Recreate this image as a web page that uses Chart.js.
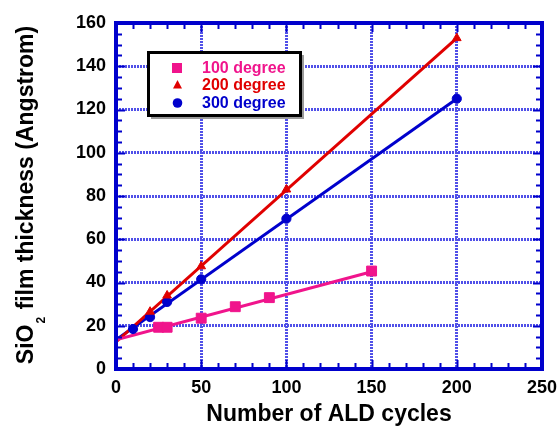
<!DOCTYPE html>
<html>
<head>
<meta charset="utf-8">
<script src="https://cdn.jsdelivr.net/npm/chart.js@4"></script>
<style>
  html, body { margin: 0; padding: 0; background: #fff; }
  canvas { display: block; }
</style>
</head>
<body>
<canvas id="aldChart" width="560" height="428"></canvas>
<script>
// --- Data ---
const cycles100 = [25, 30, 50, 70, 90, 150];
const thick100 = [19.3, 19.3, 23.5, 28.8, 33, 45.3];
const cycles200 = [20, 30, 50, 100, 200];
const thick200 = [26.5, 34, 47.5, 83, 153];
const cycles300 = [10, 20, 30, 50, 100, 200];
const thick300 = [18.5, 24, 31, 41.5, 69.5, 125];

// fitted lines (end points)
const fitX100 = [0, 150];
const fitY100 = [13.5, 45];
const fitX200 = [0, 200];
const fitY200 = [12.5, 153];
const fitX300 = [0, 200];
const fitY300 = [13.5, 125];

const xTicks = [0, 50, 100, 150, 200, 250];
const yTicks = [0, 20, 40, 60, 80, 100, 120, 140, 160];
const seriesNames = ['100 degree', '200 degree', '300 degree'];

// Colors
const pinkColor = '#f0148c';
const redColor = '#e00000';
const blueColor = '#0000cc';
const gridColor = '#5050e8';
const fontFamily = '"Liberation Sans", Arial, sans-serif';

function toPoints(xs, ys) {
    return xs.map(function (x, i) { return { x: x, y: ys[i] }; });
}

function fitSet(xs, ys, color) {
    return {
        data: toPoints(xs, ys),
        showLine: true,
        borderColor: color,
        borderWidth: 3,
        pointRadius: 0,
        fill: false
    };
}

function markSet(xs, ys, color, style, radius) {
    return {
        data: toPoints(xs, ys),
        showLine: false,
        pointStyle: style,
        pointRadius: radius,
        backgroundColor: color,
        borderColor: color,
        borderWidth: 1
    };
}

// frame with inward ticks on all four sides
const framePlugin = {
    id: 'frame',
    afterDatasetsDraw: function (chart) {
        const ctx = chart.ctx;
        const a = chart.chartArea;
        const xs = chart.scales.x;
        const ys = chart.scales.y;
        ctx.save();
        ctx.strokeStyle = blueColor;
        ctx.lineWidth = 2;
        ctx.beginPath();
        for (let v = 10; v < 250; v += 10) {
            const px = Math.round(xs.getPixelForValue(v)) + 0.5;
            const len = (v % 50 === 0) ? 9 : 6;
            ctx.moveTo(px, a.bottom); ctx.lineTo(px, a.bottom - len);
            ctx.moveTo(px, a.top); ctx.lineTo(px, a.top + len);
        }
        for (let v = 5; v < 160; v += 5) {
            const py = Math.round(ys.getPixelForValue(v)) + 0.5;
            const len = (v % 20 === 0) ? 9 : 6;
            ctx.moveTo(a.left, py); ctx.lineTo(a.left + len, py);
            ctx.moveTo(a.right, py); ctx.lineTo(a.right - len, py);
        }
        ctx.stroke();
        ctx.lineWidth = 4;
        ctx.strokeRect(a.left, a.top, a.right - a.left, a.bottom - a.top);
        ctx.restore();
    }
};

// legend box inside the plot
const legendPlugin = {
    id: 'boxLegend',
    afterDraw: function (chart) {
        const ctx = chart.ctx;
        ctx.save();
        // shadow
        ctx.fillStyle = '#9a9a9a';
        ctx.fillRect(151, 55, 153, 64);
        ctx.fillStyle = '#fff';
        ctx.fillRect(148, 52, 153, 64);
        ctx.strokeStyle = '#000';
        ctx.lineWidth = 3;
        ctx.strokeRect(148.5, 52.5, 152, 63);

        const colors = [pinkColor, redColor, blueColor];
        const rows = [68, 85, 103];
        // markers
        ctx.fillStyle = pinkColor;
        ctx.fillRect(172, rows[0] - 5, 10, 10);
        ctx.fillStyle = redColor;
        ctx.beginPath();
        ctx.moveTo(177.5, rows[1] - 5);
        ctx.lineTo(182, rows[1] + 3.5);
        ctx.lineTo(173, rows[1] + 3.5);
        ctx.closePath();
        ctx.fill();
        ctx.fillStyle = blueColor;
        ctx.beginPath();
        ctx.arc(177.5, rows[2], 4.8, 0, Math.PI * 2);
        ctx.fill();

        ctx.font = 'bold 16px ' + fontFamily;
        ctx.textBaseline = 'alphabetic';
        ctx.textAlign = 'left';
        for (let i = 0; i < seriesNames.length; i++) {
            ctx.fillStyle = colors[i];
            ctx.fillText(seriesNames[i], 202, rows[i] + 5);
        }
        ctx.restore();
    }
};

// y axis title with subscript
const yTitlePlugin = {
    id: 'yTitle',
    afterDraw: function (chart) {
        const ctx = chart.ctx;
        const mainFont = 'bold 23px ' + fontFamily;
        const subFont = 'bold 12px ' + fontFamily;
        const p1 = 'SiO';
        const p2 = '2';
        const p3 = ' film thickness (Angstrom)';
        ctx.save();
        ctx.font = mainFont;
        const w1 = ctx.measureText(p1).width;
        const w3 = ctx.measureText(p3).width;
        ctx.font = subFont;
        const w2 = ctx.measureText(p2).width + 2;
        const total = w1 + w2 + w3;
        ctx.translate(33, 195);
        ctx.rotate(-Math.PI / 2);
        ctx.fillStyle = '#000';
        ctx.textBaseline = 'alphabetic';
        ctx.textAlign = 'left';
        let x = -total / 2;
        ctx.font = mainFont;
        ctx.fillText(p1, x, 0);
        x += w1 + 1;
        ctx.font = subFont;
        ctx.fillText(p2, x, 12);
        x += w2 - 1;
        ctx.font = mainFont;
        ctx.fillText(p3, x, 0);
        ctx.restore();
    }
};

const ctx = document.getElementById('aldChart').getContext('2d');
new Chart(ctx, {
    type: 'scatter',
    data: {
        datasets: [
            markSet(cycles100, thick100, pinkColor, 'rect', 7),
            markSet(cycles200, thick200, redColor, 'triangle', 5),
            markSet(cycles300, thick300, blueColor, 'circle', 4.6),
            fitSet(fitX100, fitY100, pinkColor),
            fitSet(fitX200, fitY200, redColor),
            fitSet(fitX300, fitY300, blueColor)
        ]
    },
    options: {
        responsive: false,
        animation: false,
        layout: {
            padding: { top: 23, right: 18, left: 0, bottom: 0 }
        },
        plugins: {
            legend: { display: false },
            tooltip: { enabled: false }
        },
        scales: {
            x: {
                type: 'linear',
                min: 0,
                max: 250,
                afterFit: function (scale) {
                    scale.height = 59;
                    scale.paddingLeft = 0;
                    scale.paddingRight = 0;
                },
                afterBuildTicks: function (scale) {
                    scale.ticks = xTicks.map(function (v) { return { value: v }; });
                },
                grid: {
                    color: gridColor,
                    lineWidth: 3,
                    drawTicks: false
                },
                border: { display: false, dash: [2, 1] },
                ticks: {
                    color: '#000',
                    padding: 8,
                    maxRotation: 0,
                    font: { family: fontFamily, size: 18, weight: 'bold' }
                },
                title: {
                    display: true,
                    text: 'Number of ALD cycles',
                    color: '#000',
                    padding: { top: 0, bottom: 0 },
                    font: { family: fontFamily, size: 23, weight: 'bold' }
                }
            },
            y: {
                type: 'linear',
                min: 0,
                max: 160,
                afterFit: function (scale) {
                    scale.width = 116;
                    scale.paddingTop = 0;
                    scale.paddingBottom = 0;
                },
                afterBuildTicks: function (scale) {
                    scale.ticks = yTicks.map(function (v) { return { value: v }; });
                },
                grid: {
                    color: gridColor,
                    lineWidth: 3,
                    drawTicks: false
                },
                border: { display: false, dash: [2, 1] },
                ticks: {
                    color: '#000',
                    padding: 10,
                    font: { family: fontFamily, size: 18, weight: 'bold' }
                }
            }
        }
    },
    plugins: [framePlugin, legendPlugin, yTitlePlugin]
});
</script>
</body>
</html>
